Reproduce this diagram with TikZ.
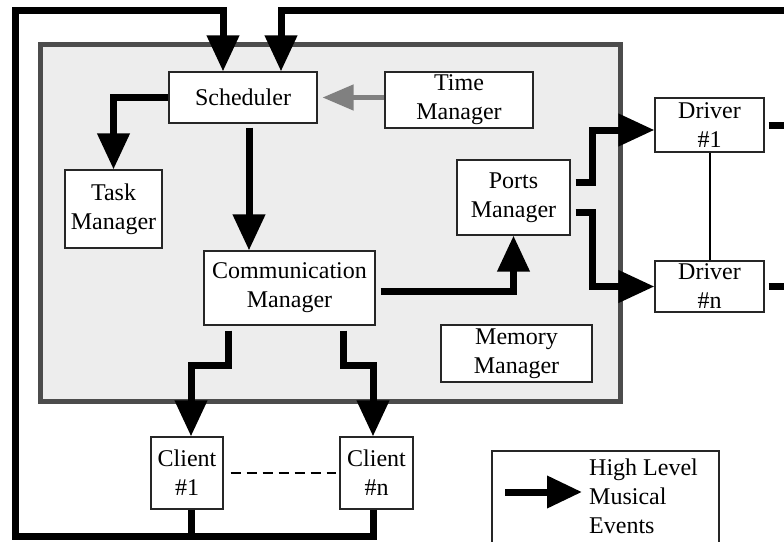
\documentclass[tikz,border=0pt]{standalone}
\usepackage{fontspec}
\setmainfont{Liberation Serif}
\usetikzlibrary{arrows.meta}
\begin{document}
\begin{tikzpicture}[x=1pt,y=-1pt,
  box/.style={draw=black!85,line width=1.1pt,fill=white,inner sep=0pt,align=center,font=\fontsize{24}{29}\selectfont},
  big/.style={line width=7pt,line join=miter,line cap=butt},
  bigarrow/.style={big,-{Triangle[length=36pt,width=31pt]}},
  grayarrow/.style={line width=4.5pt,draw=black!50,-{Triangle[length=31pt,width=25pt]}},
  thin/.style={line width=2pt},
]
\clip (0,0) rectangle (784,541);
\fill[white] (0,0) rectangle (784,541);

% kernel frame
\node[draw=black!70,line width=5pt,fill=black!7,minimum width=580pt,minimum height=357pt,inner sep=0pt] (kernel) at (330,222.5) {};

% boxes
\node[box,minimum width=148pt,minimum height=51pt] (sched) at (243,97.5) {Scheduler};
\node[box,minimum width=148pt,minimum height=56pt] (time) at (459,100) {Time\\Manager};
\node[box,minimum width=97pt,minimum height=78pt] (task) at (113.5,209) {Task\\Manager};
\node[box,minimum width=171pt,minimum height=74pt] (comm) at (289.5,288) {Communication\\Manager};
\node[box,minimum width=113pt,minimum height=75pt] (ports) at (513.5,197.5) {Ports\\Manager};
\node[box,minimum width=109pt,minimum height=54pt] (d1) at (709.5,125) {Driver\\\#1};
\node[box,minimum width=109pt,minimum height=51pt] (dn) at (709.5,286.5) {Driver\\\#n};
\node[box,minimum width=151pt,minimum height=57pt] (mem) at (516.5,353.5) {Memory\\Manager};
\node[box,minimum width=72pt,minimum height=72pt] (c1) at (187,473) {Client\\\#1};
\node[box,minimum width=73pt,minimum height=72pt] (cn) at (376.5,473) {Client\\\#n};
\node[box,minimum width=227pt,minimum height=115pt] (leg) at (605.5,508.5) {};
\node[font=\fontsize{24}{29}\selectfont,align=left,inner sep=0pt,anchor=north west] (legtext) at (589,459) {High Level\\Musical\\Events};

% helper coordinates
\coordinate (lb) at (15,536);
\coordinate (lt) at (15,10);
\coordinate (rt) at (800,10);
\coordinate (ym) at (0,365);
\coordinate (pm) at (592,0);
\coordinate (s1) at ([xshift=-20pt]sched.north);
\coordinate (s2) at ([xshift=38pt]sched.north);
\coordinate (s3) at ([xshift=6pt]sched.south);
\coordinate (c1b) at ([xshift=4pt]c1.south);
\coordinate (c1t) at ([xshift=4pt]c1.north);
\coordinate (cnb) at ([xshift=-3.5pt]cn.south);
\coordinate (cnt) at ([xshift=-3.5pt]cn.north);
\coordinate (k1) at ([xshift=-61.5pt]comm.south);
\coordinate (k2) at ([xshift=53.5pt]comm.south);
\coordinate (g1) at ([yshift=-3pt]comm.east);
\coordinate (p1) at ([yshift=15pt]ports.east);
\coordinate (p2) at ([yshift=-15pt]ports.east);
\coordinate (d1t) at ([yshift=-5pt]d1.west);
\coordinate (d1o) at (800,125);
\coordinate (dno) at (800,286.5);
\coordinate (la) at (505,492);
\coordinate (lz) at (582,492);

% outer loops
\draw[bigarrow] (cnb) -- (cnb |- lb) -- (lb) -- (lt) -- (lt -| s1) -- (s1);
\draw[big] (c1b) -- (c1b |- lb);
\draw[bigarrow] (rt) -- (rt -| s2) -- (s2);

% inner connectors
\draw[bigarrow] (sched.west) -| (task.north);
\draw[bigarrow,shorten <=4pt] (s3) -- (s3 |- comm.north);
\draw[grayarrow,shorten >=5pt] (sched.east -| time.west) -- (sched.east);
\draw[bigarrow,shorten <=5pt] (g1) -| (ports.south);
\draw[bigarrow,shorten <=5pt] (p1) -- (p1 -| pm) -- (pm |- d1t) -- (d1t);
\draw[bigarrow,shorten <=5pt] (p2) -- (p2 -| pm) -- (pm |- dn.west) -- (dn.west);
\draw[big,shorten <=4pt] (d1.east) -- (d1o);
\draw[big,shorten <=4pt] (dn.east) -- (dno);
\draw[thin] (d1.south) -- (dn.north);
\draw[bigarrow,shorten <=5pt] (k1) -- (k1 |- ym) -- (ym -| c1t) -- (c1t);
\draw[bigarrow,shorten <=5pt] (k2) -- (k2 |- ym) -- (ym -| cnt) -- (cnt);
\draw[thin,dash pattern=on 10pt off 6pt,shorten <=7pt,shorten >=3pt] (c1.east) -- (cn.west);

% legend arrow
\draw[big,-{Triangle[length=35pt,width=31pt]}] (la) -- (lz);
\end{tikzpicture}
\end{document}
